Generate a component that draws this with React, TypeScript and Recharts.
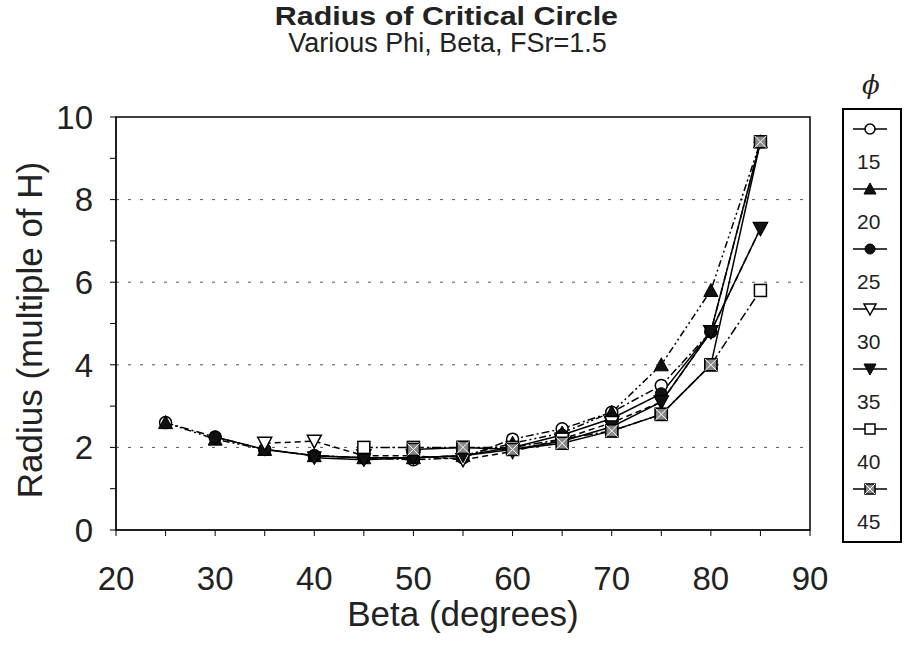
import React from "react"
import { LineChart, Line, XAxis, YAxis, CartesianGrid, ReferenceArea } from "recharts"

// beta (degrees) on the x axis
const betas = [25, 30, 35, 40, 45, 50, 55, 60, 65, 70, 75, 80, 85]

// radius (multiple of H) for each phi, aligned with betas
const phi15 = [2.6, 2.25, 1.95, 1.8, 1.75, 1.7, 1.75, 2.2, 2.45, 2.85, 3.5, 4.8, 9.4]
const phi20 = [2.6, 2.2, 1.95, 1.8, 1.75, 1.75, 1.8, 2.1, 2.35, 2.85, 4.0, 5.8, 9.4]
const phi25 = [null, 2.25, 1.95, 1.8, 1.75, 1.75, 1.8, 2.0, 2.3, 2.7, 3.3, 4.8, 9.4]
const phi30 = [null, null, 2.1, 2.15, 1.8, 1.8, 1.7, 1.9, 2.2, 2.6, 3.1, 4.8, 7.3]
const phi35 = [null, null, null, 1.75, 1.7, 1.75, 1.8, 1.95, 2.15, 2.5, 3.1, 4.8, 7.3]
const phi40 = [null, null, null, null, 2.0, 2.0, 2.0, 2.0, 2.2, 2.4, 2.8, 4.0, 5.8]
const phi45 = [null, null, null, null, null, 1.95, 2.0, 1.95, 2.1, 2.4, 2.8, 4.0, 9.4]

const xTicks = [20, 25, 30, 35, 40, 45, 50, 55, 60, 65, 70, 75, 80, 85, 90]
const yTicks = [0, 1, 2, 3, 4, 5, 6, 7, 8, 9, 10]
const gridValues = [2, 4, 6, 8]

const data = betas.map((b, i) => ({
  beta: b,
  p15: phi15[i],
  p20: phi20[i],
  p25: phi25[i],
  p30: phi30[i],
  p35: phi35[i],
  p40: phi40[i],
  p45: phi45[i],
}))

type Shape = "circle" | "tri" | "dot" | "downOpen" | "down" | "square" | "hatch"

function Marker({ shape, cx, cy, s = 6 }: { shape: Shape; cx: number; cy: number; s?: number }) {
  switch (shape) {
    case "circle":
      return <circle cx={cx} cy={cy} r={s} fill="#fff" stroke="#000" strokeWidth={1.5} />
    case "dot":
      return <circle cx={cx} cy={cy} r={s} fill="#111" stroke="#000" strokeWidth={1} />
    case "tri":
      return <polygon points={`${cx},${cy - s - 1} ${cx - s - 1},${cy + s} ${cx + s + 1},${cy + s}`} fill="#111" stroke="#000" />
    case "downOpen":
      return <polygon points={`${cx - s - 1},${cy - s} ${cx + s + 1},${cy - s} ${cx},${cy + s + 1}`} fill="#fff" stroke="#000" strokeWidth={1.5} />
    case "down":
      return <polygon points={`${cx - s - 1},${cy - s} ${cx + s + 1},${cy - s} ${cx},${cy + s + 1}`} fill="#111" stroke="#000" />
    case "square":
      return <rect x={cx - s} y={cy - s} width={2 * s} height={2 * s} fill="#fff" stroke="#000" strokeWidth={1.5} />
    default:
      return (
        <g>
          <rect x={cx - s} y={cy - s} width={2 * s} height={2 * s} fill="#888" stroke="#000" strokeWidth={1.5} />
          <line x1={cx - s} y1={cy - s} x2={cx + s} y2={cy + s} stroke="#fff" strokeWidth={1} />
          <line x1={cx + s} y1={cy - s} x2={cx - s} y2={cy + s} stroke="#fff" strokeWidth={1} />
        </g>
      )
  }
}

const makeDot = (shape: Shape) => (props: any) => {
  const { cx, cy, index, value } = props
  if (cx == null || cy == null || value == null) return <g key={`${shape}-${index}`} />
  return (
    <g key={`${shape}-${index}`}>
      <Marker shape={shape} cx={cx} cy={cy} />
    </g>
  )
}

const series: { key: string; label: string; shape: Shape; dash: string }[] = [
  { key: "p15", label: "15", shape: "circle", dash: "8 3 2 3" },
  { key: "p20", label: "20", shape: "tri", dash: "7 3 2 3 2 3" },
  { key: "p25", label: "25", shape: "dot", dash: "" },
  { key: "p30", label: "30", shape: "downOpen", dash: "6 4" },
  { key: "p35", label: "35", shape: "down", dash: "" },
  { key: "p40", label: "40", shape: "square", dash: "9 3 2 3" },
  { key: "p45", label: "45", shape: "hatch", dash: "" },
]

const font = "'Liberation Sans', Arial, sans-serif"

export default function App() {
  return (
    <div style={{ position: "absolute", left: 0, top: 0, width: 905, height: 647, background: "#fff", fontFamily: font, overflow: "hidden" }}>
      <div style={{ position: "absolute", left: -7, width: 905, top: 1, textAlign: "center", fontSize: 26, fontWeight: "bold", color: "#222", transform: "scaleX(1.17)", transformOrigin: "447px 0" }}>
        Radius of Critical Circle
      </div>
      <div style={{ position: "absolute", left: -5, width: 905, top: 28, textAlign: "center", fontSize: 27, color: "#222" }}>
        Various Phi, Beta, FSr=1.5
      </div>

      <LineChart width={905} height={647} data={data} margin={{ top: 117, right: 95, bottom: 60, left: 66 }}>
        <CartesianGrid vertical={false} horizontalValues={gridValues} stroke="#555" strokeDasharray="3 9" />
        <ReferenceArea x1={20} x2={90} y1={0} y2={10} fill="none" stroke="#000" strokeWidth={1.5} />
        <XAxis
          dataKey="beta"
          type="number"
          domain={[20, 90]}
          ticks={xTicks}
          height={57}
          tickSize={6}
          tickMargin={31}
          stroke="#000"
          tick={{ fill: "#222", fontSize: 33, fontFamily: font }}
          tickFormatter={(v) => (v % 10 === 0 ? `${v}` : "")}
        />
        <YAxis
          type="number"
          domain={[0, 10]}
          ticks={yTicks}
          width={50}
          tickSize={6}
          tickMargin={17}
          stroke="#000"
          tick={{ fill: "#222", fontSize: 33, fontFamily: font }}
          tickFormatter={(v) => (v % 2 === 0 ? `${v}` : "")}
        />
        {series.map((s) => (
          <Line
            key={s.key}
            dataKey={s.key}
            type="linear"
            stroke="#000"
            strokeWidth={1.5}
            strokeDasharray={s.dash || undefined}
            dot={makeDot(s.shape)}
            activeDot={false}
            isAnimationActive={false}
          />
        ))}
      </LineChart>

      <div style={{ position: "absolute", left: 0, top: 0, width: 60, height: 647 }}>
        <div style={{ position: "absolute", left: 30, top: 330, transform: "translate(-50%, -50%) rotate(-90deg)", whiteSpace: "nowrap", fontSize: 35, color: "#222" }}>
          Radius (multiple of H)
        </div>
      </div>
      <div style={{ position: "absolute", left: 116, width: 694, top: 594, textAlign: "center", fontSize: 35, color: "#222" }}>
        Beta (degrees)
      </div>

      <div style={{ position: "absolute", left: 862, top: 70, fontSize: 26, fontStyle: "italic", fontFamily: "'DejaVu Serif', serif", color: "#222" }}>ϕ</div>
      <div style={{ position: "absolute", left: 842, top: 108, width: 60, height: 435, border: "2px solid #000", boxSizing: "border-box" }}>
        {series.map((s, i) => (
          <div key={s.key} style={{ position: "absolute", left: 0, top: 11 + i * 60, width: 56 }}>
            <svg width={56} height={16} style={{ display: "block" }}>
              <line x1={9} y1={8} x2={43} y2={8} stroke="#000" strokeWidth={1.3} />
              <Marker shape={s.shape} cx={26} cy={8} s={5} />
            </svg>
            <div style={{ fontSize: 21, color: "#222", marginLeft: 13, marginTop: 13, lineHeight: "24px" }}>{s.label}</div>
          </div>
        ))}
      </div>
    </div>
  )
}
